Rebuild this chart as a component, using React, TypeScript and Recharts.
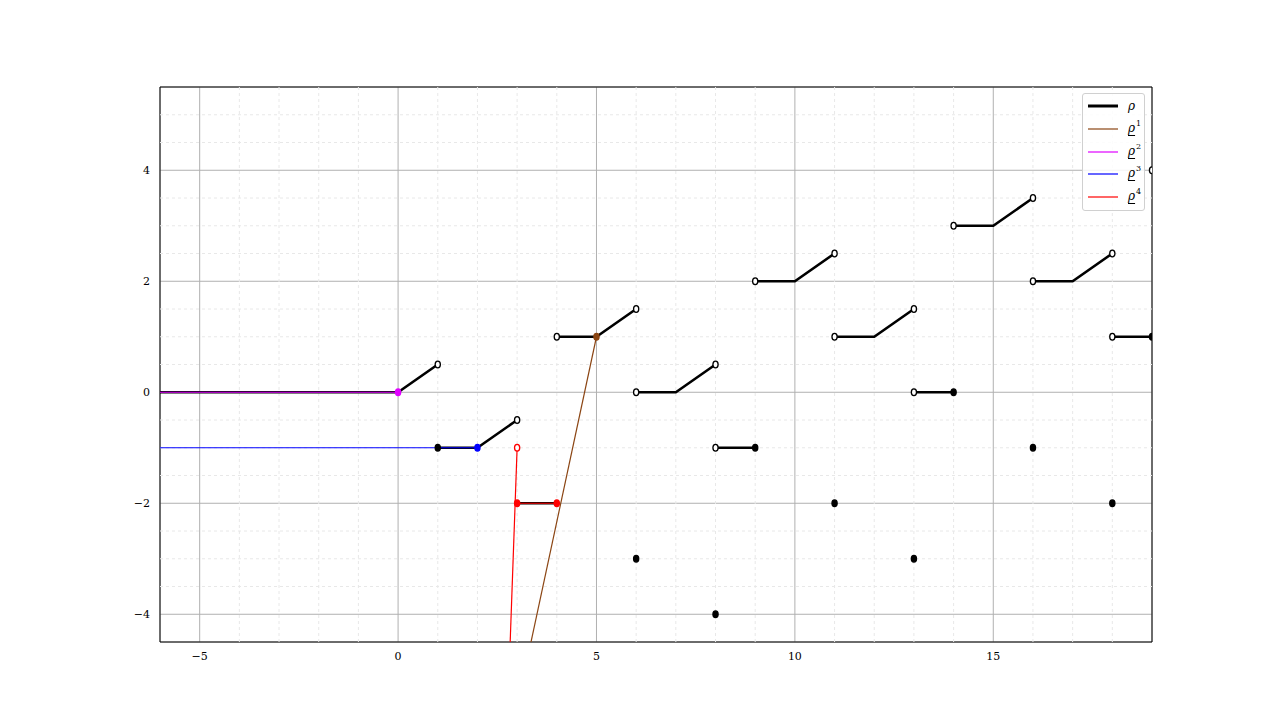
import React from "react";
import {
  ComposedChart,
  Line,
  Scatter,
  XAxis,
  YAxis,
  CartesianGrid,
  ReferenceLine,
  ReferenceArea,
} from "recharts";

type Pt = { x: number; y: number };
const pts = (arr: [number, number][]): Pt[] => arr.map(([x, y]) => ({ x, y }));

// rho: piecewise pieces
const rhoPieces: [number, number][][] = [
  [[-6, 0], [0, 0], [1, 0.5]],
  [[1, -1], [2, -1], [3, -0.5]],
  [[3, -2], [4, -2]],
  [[4, 1], [5, 1], [6, 1.5]],
  [[6, 0], [7, 0], [8, 0.5]],
  [[8, -1], [9, -1]],
  [[9, 2], [10, 2], [11, 2.5]],
  [[11, 1], [12, 1], [13, 1.5]],
  [[13, 0], [14, 0]],
  [[14, 3], [15, 3], [16, 3.5]],
  [[16, 2], [17, 2], [18, 2.5]],
  [[18, 1], [19, 1]],
];
const rhoOpen: [number, number][] = [
  [1, 0.5], [3, -0.5], [4, 1], [6, 1.5], [6, 0], [8, 0.5], [8, -1],
  [9, 2], [11, 2.5], [11, 1], [13, 1.5], [13, 0], [14, 3], [16, 3.5],
  [16, 2], [18, 2.5], [18, 1], [19, 4],
];
const rhoFilled: [number, number][] = [
  [1, -1], [9, -1], [14, 0], [19, 1],
  [6, -3], [8, -4], [11, -2], [13, -3], [16, -1], [18, -2],
];

const rho1Line: [number, number][] = [[2, -9], [5, 1]];
const rho1Dots: [number, number][] = [[5, 1]];
const rho2Line: [number, number][] = [[-6, 0], [0, 0]];
const rho2Dots: [number, number][] = [[0, 0]];
const rho3Line: [number, number][] = [[-6, -1], [2, -1]];
const rho3Dots: [number, number][] = [[2, -1]];
const rho4LineA: [number, number][] = [[2.75, -6], [3, -1]];
const rho4LineB: [number, number][] = [[3, -2], [4, -2]];
const rho4Open: [number, number][] = [[3, -1]];
const rho4Filled: [number, number][] = [[3, -2], [4, -2]];

const xTicks = [-5, 0, 5, 10, 15];
const yTicks = [-4, -2, 0, 2, 4];
const minorX = [-4, -3, -2, -1, 1, 2, 3, 4, 6, 7, 8, 9, 11, 12, 13, 14, 16, 17, 18];
const minorY = [-3.5, -3, -2.5, -1.5, -1, -0.5, 0.5, 1, 1.5, 2.5, 3, 3.5, 4.5, 5];

const BROWN = "#8b4513";
const MAGENTA = "#e000ff";
const BLUE = "#0000ff";
const RED = "#ff0000";

const fmt = (v: number) => String(v).replace("-", "\u2212");
const tickStyle = { fontFamily: "DejaVu Serif", fontSize: 11, fill: "#000" };

const marker = (fill: string, stroke: string) => (props: any) => (
  <ellipse
    cx={props.cx}
    cy={props.cy}
    rx={2.6}
    ry={3.3}
    fill={fill}
    stroke={stroke}
    strokeWidth={1.3}
  />
);

const legendItems = [
  { color: "#000", width: 3, sup: "", under: false },
  { color: BROWN, width: 1.2, sup: "1", under: true },
  { color: MAGENTA, width: 1.2, sup: "2", under: true },
  { color: BLUE, width: 1.2, sup: "3", under: true },
  { color: RED, width: 1.2, sup: "4", under: true },
];

const Legend = () => (
  <div
    style={{
      position: "absolute",
      left: 1082,
      top: 93,
      width: 61,
      height: 114,
      border: "1px solid #d0d0d0",
      borderRadius: 3,
      background: "rgba(255,255,255,0.85)",
      paddingTop: 2,
      boxSizing: "content-box",
    }}
  >
    {legendItems.map((it, i) => (
      <div
        key={i}
        style={{ position: "absolute", left: 4, top: 3 + i * 22.8, height: 18, display: "flex", alignItems: "center" }}
      >
        <svg width={32} height={18}>
          <line x1={1} x2={31} y1={9} y2={9} stroke={it.color} strokeWidth={it.width} />
        </svg>
        <span
          style={{
            marginLeft: 9,
            fontFamily: "DejaVu Serif",
            fontSize: 12,
            fontStyle: "italic",
            lineHeight: "18px",
            position: "relative",
          }}
        >
          <span style={{ textDecoration: it.under ? "underline" : "none", textUnderlineOffset: 3 }}>ρ</span>
          {it.sup && (
            <span style={{ fontSize: 8, fontStyle: "normal", position: "relative", top: -6, marginLeft: 1 }}>
              {it.sup}
            </span>
          )}
        </span>
      </div>
    ))}
  </div>
);

export default function App() {
  return (
    <div style={{ position: "absolute", left: 0, top: 0, width: 1280, height: 721, background: "#fff" }}>
      <ComposedChart width={1280} height={721} margin={{ top: 87, right: 128, bottom: 49, left: 120 }}>
        <CartesianGrid stroke="#b0b0b0" strokeWidth={1} />
        <XAxis
          type="number"
          dataKey="x"
          domain={[-6, 19]}
          ticks={xTicks}
          allowDataOverflow
          axisLine={false}
          tickLine={false}
          tickSize={0}
          tickMargin={10}
          height={30}
          tick={tickStyle}
          tickFormatter={fmt}
        />
        <YAxis
          type="number"
          dataKey="y"
          domain={[-4.5, 5.5]}
          ticks={yTicks}
          allowDataOverflow
          axisLine={false}
          tickLine={false}
          tickSize={0}
          tickMargin={10}
          width={40}
          tick={tickStyle}
          tickFormatter={fmt}
        />
        {minorX.map((v) => (
          <ReferenceLine key={"mx" + v} x={v} stroke="#e8e8e8" strokeDasharray="3 3" />
        ))}
        {minorY.map((v) => (
          <ReferenceLine key={"my" + v} y={v} stroke="#e8e8e8" strokeDasharray="3 3" />
        ))}
        {rhoPieces.map((p, i) => (
          <Line
            key={"rho" + i}
            data={pts(p)}
            dataKey="y"
            type="linear"
            stroke="#000"
            strokeWidth={2.6}
            dot={false}
            activeDot={false}
            isAnimationActive={false}
          />
        ))}
        <Line data={pts(rho1Line)} dataKey="y" type="linear" stroke={BROWN} strokeWidth={1.2} dot={false} activeDot={false} isAnimationActive={false} />
        <Line data={pts(rho2Line)} dataKey="y" type="linear" stroke={MAGENTA} strokeWidth={1.2} dot={false} activeDot={false} isAnimationActive={false} />
        <Line data={pts(rho3Line)} dataKey="y" type="linear" stroke={BLUE} strokeWidth={1.2} dot={false} activeDot={false} isAnimationActive={false} />
        <Line data={pts(rho4LineA)} dataKey="y" type="linear" stroke={RED} strokeWidth={1.2} dot={false} activeDot={false} isAnimationActive={false} />
        <Line data={pts(rho4LineB)} dataKey="y" type="linear" stroke={RED} strokeWidth={1.2} dot={false} activeDot={false} isAnimationActive={false} />
        <Scatter data={pts(rhoOpen)} shape={marker("#fff", "#000")} isAnimationActive={false} />
        <Scatter data={pts(rhoFilled)} shape={marker("#000", "#000")} isAnimationActive={false} />
        <Scatter data={pts(rho1Dots)} shape={marker(BROWN, BROWN)} isAnimationActive={false} />
        <Scatter data={pts(rho2Dots)} shape={marker(MAGENTA, MAGENTA)} isAnimationActive={false} />
        <Scatter data={pts(rho3Dots)} shape={marker(BLUE, BLUE)} isAnimationActive={false} />
        <Scatter data={pts(rho4Open)} shape={marker("#fff", RED)} isAnimationActive={false} />
        <Scatter data={pts(rho4Filled)} shape={marker(RED, RED)} isAnimationActive={false} />
        <ReferenceArea x1={-6} x2={19} y1={-4.5} y2={5.5} fill="none" stroke="#000" strokeWidth={1} />
      </ComposedChart>
      <Legend />
    </div>
  );
}
